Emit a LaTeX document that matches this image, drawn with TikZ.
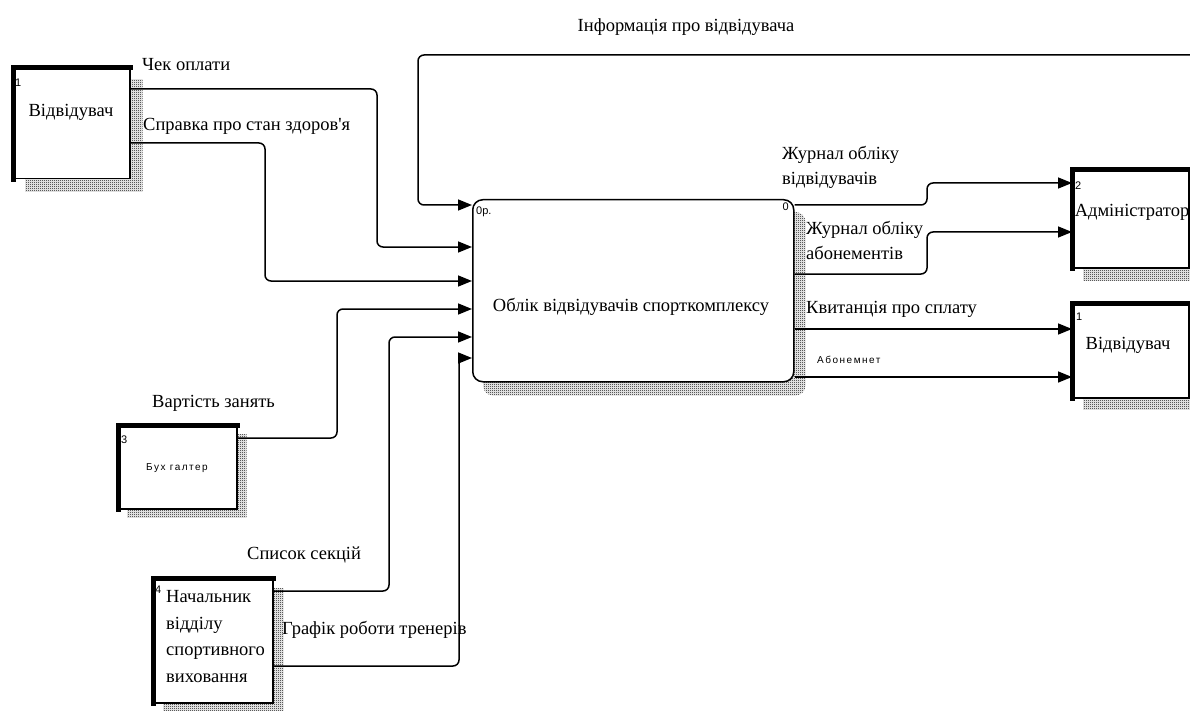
\documentclass[tikz,border=0pt]{standalone}
\usepackage{fontspec}
\setmainfont{Liberation Serif}
\newfontfamily\numfont{Liberation Sans}
\newfontfamily\widesans[LetterSpace=15]{Liberation Sans}
\usetikzlibrary{arrows.meta,patterns,calc,backgrounds}
% fine checker used for the drop shadows
\pgfdeclarepatternformonly{checker}{\pgfpointorigin}{\pgfpoint{2pt}{2pt}}{\pgfpoint{2pt}{2pt}}{
  \pgfpathrectangle{\pgfpointorigin}{\pgfpoint{1pt}{1pt}}
  \pgfpathrectangle{\pgfpoint{1pt}{1pt}}{\pgfpoint{1pt}{1pt}}
  \pgfusepath{fill}
}
\newcommand{\lblfont}{\fontsize{18.5}{22}\selectfont}
\begin{document}
\begin{tikzpicture}[x=1pt,y=-1pt,
  lbl/.style={font=\lblfont, inner sep=0pt, anchor=west},
  num/.style={font=\numfont\fontsize{11}{13}\selectfont, inner sep=0pt, anchor=north west},
  flow/.style={line width=1.5pt, rounded corners=6pt, -{Triangle[length=14pt,width=11pt]}},
  shade/.style={pattern=checker, pattern color=black},
  entity/.style={draw, line width=1.5pt, fill=white, anchor=north west, inner sep=0pt},
  heavy/.style={line width=5pt, line cap=rect},
  activity/.style={draw, line width=1.5pt, fill=white, anchor=north west, inner sep=0pt,
    rounded corners=10pt, minimum width=321pt, minimum height=182pt},
]
\useasboundingbox (0,0) rectangle (1190,711);

% ---------- activity box ----------
\node[activity] (main) at (472,199) {};
\node[font=\lblfont, inner sep=0pt] (mainlbl) at (631,307) {Облік відвідувачів спорткомплексу};
\node[num] (mainnum) at (476,207) {0р.};
\node[num, anchor=north east] (mainnode) at (789,203) {0};

% ---------- external entities ----------
\node[entity, minimum width=116pt, minimum height=110pt] (v1) at (13,68) {};
\node[entity, minimum width=118pt, minimum height=83pt] (b3) at (118,425) {};
\node[entity, minimum width=119pt, minimum height=124pt] (b4) at (153,578) {};
\node[entity, minimum width=116pt, minimum height=97pt] (a2) at (1072,170) {};
\node[entity, minimum width=116pt, minimum height=94pt] (r1) at (1072,303) {};

% heavy top and left edges
\foreach \b in {v1,b3,b4,a2,r1}
  \draw[heavy] (\b.south west) -- (\b.north west) -- (\b.north east);

% hatched drop shadows
\begin{scope}[on background layer]
  \fill[shade] ($(v1.north west)+(12,12)$) rectangle ($(v1.south east)+(12,12)$);
  \fill[shade] ($(b3.north west)+(9,9)$) rectangle ($(b3.south east)+(9,8)$);
  \fill[shade] ($(b4.north west)+(10,10)$) rectangle ($(b4.south east)+(10,7)$);
  \fill[shade] ($(a2.north west)+(11,12)$) rectangle ($(a2.south east)+(11,12)$);
  \fill[shade] ($(r1.north west)+(11,11)$) rectangle ($(r1.south east)+(11,11)$);
  \fill[shade, rounded corners=10pt] ($(main.north west)+(11,13)$) rectangle ($(main.south east)+(11,13)$);
\end{scope}

% entity captions
\node[font=\lblfont, inner sep=0pt] (v1lbl) at (71,112) {Відвідувач};
\node[num] (v1num) at (15,79) {1};
\node[font=\widesans\fontsize{10}{12}\selectfont, inner sep=0pt] (b3lbl) at (177,468) {Бух галтер};
\node[num] (b3num) at (121,436) {3};
\node[font=\fontsize{18.5}{26.7}\selectfont, inner sep=0pt, align=left, anchor=north west] (b4lbl) at (166,590)
  {Начальник\\відділу\\спортивного\\виховання};
\node[num] (b4num) at (155,586) {4};
\node[font=\lblfont, inner sep=0pt] (a2lbl) at (1132,212) {Адміністратор};
\node[num] (a2num) at (1075,182) {2};
\node[font=\lblfont, inner sep=0pt] (r1lbl) at (1128,345) {Відвідувач};
\node[num] (r1num) at (1076,313) {1};

% ---------- inputs ----------
\coordinate (infosrc) at (1190,55);
\draw[flow] (infosrc) -- (418,55) |- ($(main.north west)+(0,6)$);
\draw[flow] ($(v1.north east)+(0,21)$) -- (377,89) |- ($(main.north west)+(0,48)$);
\draw[flow] ($(v1.north east)+(0,75)$) -- (265,143) |- ($(main.north west)+(0,82)$);
\draw[flow] ($(b3.north east)+(0,13)$) -- (337,438) |- ($(main.north west)+(0,110)$);
\draw[flow] ($(b4.north east)+(0,13)$) -- (389,591) |- ($(main.north west)+(0,138)$);
\draw[flow] ($(b4.north east)+(0,88)$) -- (459,666) |- ($(main.north west)+(0,159)$);

% ---------- outputs ----------
\draw[flow] ($(main.north east)+(0,6)$) -- (927,205) |- ($(a2.north west)+(0,13)$);
\draw[flow] ($(main.north east)+(0,75)$) -- (927,274) |- ($(a2.north west)+(0,62)$);
\draw[flow] ($(main.north east)+(0,130)$) -- ($(r1.north west)+(0,26)$);
\draw[flow] ($(main.north east)+(0,178)$) -- ($(r1.north west)+(0,74)$);

% ---------- arrow labels ----------
\node[font=\lblfont, inner sep=0pt] (l_info) at (686,27) {Інформація про відвідувача};
\node[lbl] (l_chek) at (142,65) {Чек оплати};
\node[lbl] (l_sprav) at (143,126) {Справка про стан здоров\textquotesingle я};
\node[lbl] (l_vart) at (152,403) {Вартість занять};
\node[lbl] (l_spys) at (247,555) {Список секцій};
\node[lbl] (l_graf) at (282,630) {Графік роботи тренерів};
\node[lbl, align=left, font=\fontsize{18.5}{25}\selectfont] (l_zhv) at (782,167) {Журнал обліку\\відвідувачів};
\node[lbl, align=left, font=\fontsize{18.5}{25}\selectfont] (l_zha) at (806,240) {Журнал обліку\\абонементів};
\node[lbl] (l_kvyt) at (806,309) {Квитанція про сплату};
\node[font=\widesans\fontsize{10}{12}\selectfont, inner sep=0pt, anchor=west] (l_abon) at (817,360) {Абонемнет};
\end{tikzpicture}
\end{document}
